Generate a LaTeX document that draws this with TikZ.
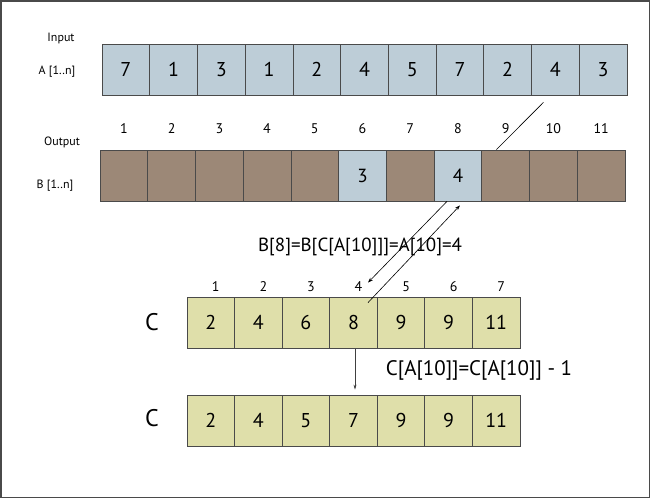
\documentclass[tikz,border=0pt]{standalone}
\usepackage{fontspec}
\setmainfont{PT Sans}
\usetikzlibrary{arrows.meta,calc}
\definecolor{afill}{HTML}{BDCDD7}
\definecolor{bfill}{HTML}{9C8877}
\definecolor{cfill}{HTML}{DFDFAA}
\definecolor{edge}{HTML}{4A4A4A}
\tikzset{
  cellbox/.style={draw=edge, line width=0.8pt, minimum height=51pt, inner sep=0pt, font=\fontsize{20}{20}\selectfont},
  acell/.style={cellbox, fill=afill, minimum width=47.727pt},
  bcell/.style={cellbox, fill=bfill, minimum width=47.727pt, font=\fontsize{19}{19}\selectfont},
  ccell/.style={cellbox, fill=cfill, minimum width=47.571pt},
  small/.style={font=\fontsize{12}{12}\selectfont, inner sep=0pt},
  idx/.style={font=\fontsize{14}{14}\selectfont, inner sep=0pt},
  eq/.style={font=\fontsize{19}{19}\selectfont, inner sep=0pt},
  big/.style={font=\fontsize{24}{24}\selectfont, inner sep=0pt},
  conn/.style={line width=0.6pt, black},
  arr/.style={conn, -{Stealth[length=5pt,width=3.5pt]}},
}
\begin{document}
\begin{tikzpicture}[x=1pt,y=-1pt]
\useasboundingbox (0,0) rectangle (650,498);
\draw[edge, line width=1.5pt] (0.75,0.75) rectangle (649.25,497.25);
% labels
\node[small] (lin) at (61,38) {Input};
\node[small] (la) at (57,72) {A [1..n]};
\node[small] (lout) at (62,142) {Output};
\node[small] (lb) at (55,186) {B [1..n]};
% array A
\foreach \v [count=\i] in {7,1,3,1,2,4,5,7,2,4,3}
  \node[acell] (a\i) at ({102+(\i-0.5)*47.727},69.5) {\v};
% array B
\foreach \i in {1,...,11}{
  \node[bcell] (b\i) at ({100+(\i-0.5)*47.727},175.5) {};
  \node[idx] (bi\i) at ({100+(\i-0.5)*47.727},129) {\i};
}
\node[bcell, fill=afill] at (b6) {3};
\node[bcell, fill=afill] at (b8) {4};
% array C (before)
\foreach \v [count=\i] in {2,4,6,8,9,9,11}{
  \node[ccell] (c\i) at ({187+(\i-0.5)*47.571},322.5) {\v};
  \node[idx] (ci\i) at ({192+(\i-0.5)*47.571},287) {\i};
}
% array C (after)
\foreach \v [count=\i] in {2,4,5,7,9,9,11}
  \node[ccell] (d\i) at ({187+(\i-0.5)*47.571},420.5) {\v};
\node[big] (lc1) at (152,322) {C};
\node[big] (lc2) at (152,418) {C};
% equations
\node[eq] (eq1) at (360,247) {B[8]=B[C[A[10]]]=A[10]=4};
\node[eq, font=\fontsize{21}{21}\selectfont] (eq2) at (479,370) {C[A[10]]=C[A[10]] - 1};
% connectors
\coordinate (p1) at ($(a10.south)+(-12,7)$);
\coordinate (p2) at ($(b9.north west)+(15,0)$);
\draw[conn] (p1) -- (p2);
\coordinate (q1) at ($(b8.south)+(-11,0)$);
\coordinate (q2) at ($(c4.north)+(14.5,-14)$);
\draw[arr] (q1) -- (q2);
\coordinate (r1) at ($(c4.north)+(14.5,6)$);
\coordinate (r2) at ($(b8.south)+(2,4)$);
\draw[arr] (r1) -- (r2);
\coordinate (s1) at ($(c4.south)+(1.5,1)$);
\coordinate (s2) at ($(d4.north)+(1.5,-5)$);
\draw[line width=0.5pt, black!75, -{Stealth[length=5pt,width=3pt]}] (s1) -- (s2);
\end{tikzpicture}
\end{document}
